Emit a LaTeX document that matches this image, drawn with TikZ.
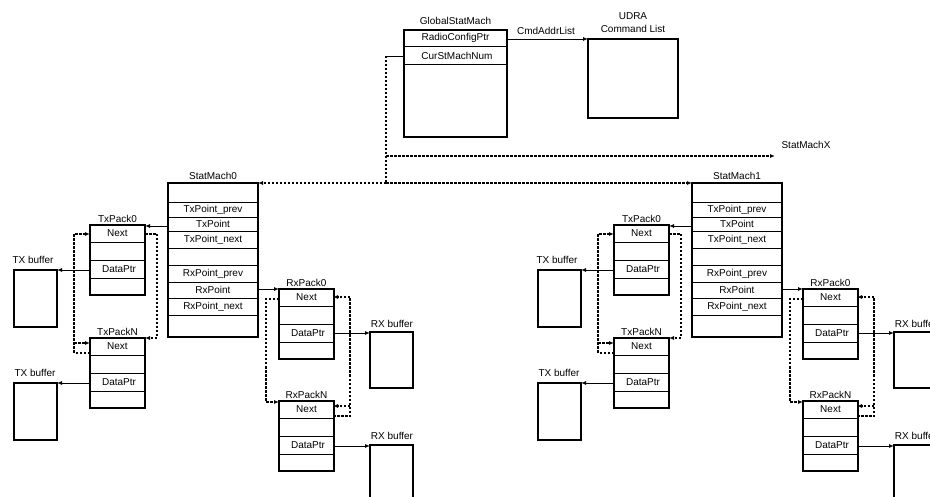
\documentclass[tikz,border=0pt]{standalone}
\usepackage{fontspec}
\setmainfont{Liberation Sans}
\usetikzlibrary{arrows.meta}
\tikzset{
 box/.style={draw,line width=1.6pt,inner sep=0,outer sep=0},
 row/.style={line width=0.9pt},
 lbl/.style={inner sep=0,font=\fontsize{10}{11}\selectfont},
 t/.style={inner sep=0,font=\fontsize{10}{11}\selectfont},
 arr/.style={line width=0.9pt,-{Latex[length=5pt,width=4pt]}},
 dsh/.style={line width=1.1pt,dash pattern=on 2.5pt off 1.5pt},
 darr/.style={dsh,-{Latex[length=5pt,width=4pt]}},
}
\newcommand\pk[4]{%
 \node[box,minimum width=55,minimum height=70] (#1) at (#2+27.5,#3+35) {};
 \draw[row] (#2,#3+17) -- ++(55,0) (#2,#3+35) -- ++(55,0) (#2,#3+53) -- ++(55,0);
 \node[lbl] at (#2+27.5,#3-6) {#4};
 \node[t] at (#2+27.5,#3+8.5) {Next};
 \node[t] at (#2+29,#3+44) {DataPtr};
}
\newcommand\grp[2]{%
 \node[box,minimum width=90,minimum height=154] (sm#1) at (213,260) {};
 \node[lbl] at (213,176) {#2};
 \foreach \yy in {202,217,231,248,265,282,298,315} \draw[row] (168,\yy) -- (258,\yy);
 \node[t] at (213,209.5) {TxPoint\_prev};
 \node[t] at (213,224) {TxPoint};
 \node[t] at (213,239.5) {TxPoint\_next};
 \node[t] at (213,273.5) {RxPoint\_prev};
 \node[t] at (213,290) {RxPoint};
 \node[t] at (213,306.5) {RxPoint\_next};
 \pk{tpa#1}{90}{225}{TxPack0}
 \pk{tpn#1}{90}{338}{TxPackN}
 \pk{rpa#1}{279}{289}{RxPack0}
 \pk{rpn#1}{279}{401}{RxPackN}
 \node[box,minimum width=43,minimum height=57] (tba#1) at (35.5,298.5) {};
 \node[lbl] at (33,260) {TX buffer};
 \node[box,minimum width=43,minimum height=57] (tbn#1) at (35.5,411.5) {};
 \node[lbl] at (35,373) {TX buffer};
 \node[box,minimum width=43,minimum height=56] (rba#1) at (391.5,360) {};
 \node[lbl] at (392,324) {RX buffer};
 \node[box,minimum width=43,minimum height=64] (rbn#1) at (391.5,477) {};
 \node[lbl] at (392,436) {RX buffer};
 \draw[arr] (168,226) -- (tpa#1.east |- 0,226);
 \draw[arr] (258,289) -- (rpa#1.west |- 0,289);
 \draw[arr] (90,270) -- (tba#1.east |- 0,270);
 \draw[arr] (90,383) -- (tbn#1.east |- 0,383);
 \draw[arr] (333,333) -- (rba#1.west |- 0,333);
 \draw[arr] (333,446) -- (rbn#1.west |- 0,446);
 \draw[darr] (145,234) -- (157,234) -- (157,338) -- (145,338);
 \draw[darr] (90,353) -- (74,353) -- (74,234) -- (90,234);
 \draw[darr] (74,343) -- (90,343);
 \draw[darr] (333,416) -- (350,416) -- (350,297) -- (333,297);
 \draw[darr] (350,406) -- (333,406);
 \draw[darr] (279,299) -- (266,299) -- (266,402) -- (279,402);
}
\begin{document}
\begin{tikzpicture}[x=1pt,y=-1pt]
\useasboundingbox (0,0) rectangle (930,497);
\clip (0,0) rectangle (930,497);
\node[box,minimum width=103,minimum height=107] (gsm) at (455.5,83.5) {};
\draw[row] (404,46) -- (507,46) (404,64) -- (507,64);
\node[lbl] at (455.5,21) {GlobalStatMach};
\node[t] at (455.5,38) {RadioConfigPtr};
\node[t] at (457,55.5) {CurStMachNum};
\node[box,minimum width=90,minimum height=79] (udra) at (633,78.5) {};
\node[lbl] at (633,16) {UDRA};
\node[lbl] at (633,29) {Command List};
\node[lbl] at (546,31) {CmdAddrList};
\draw[arr] (507,39) -- (udra.west |- 0,39);
\draw[row] (404,56) -- (386,56);
\draw[dsh] (386,56) -- (386,183);
\coordinate (smx) at (775,156);
\draw[darr] (386,156) -- (smx);
\node[lbl] at (806,145) {StatMachX};
\begin{scope}\grp{0}{StatMach0}\end{scope}
\begin{scope}[xshift=524pt]\grp{1}{StatMach1}\end{scope}
\draw[darr] (386,183) -- (sm0.east |- 0,183);
\draw[darr] (386,183) -- (sm1.west |- 0,183);
\end{tikzpicture}
\end{document}
